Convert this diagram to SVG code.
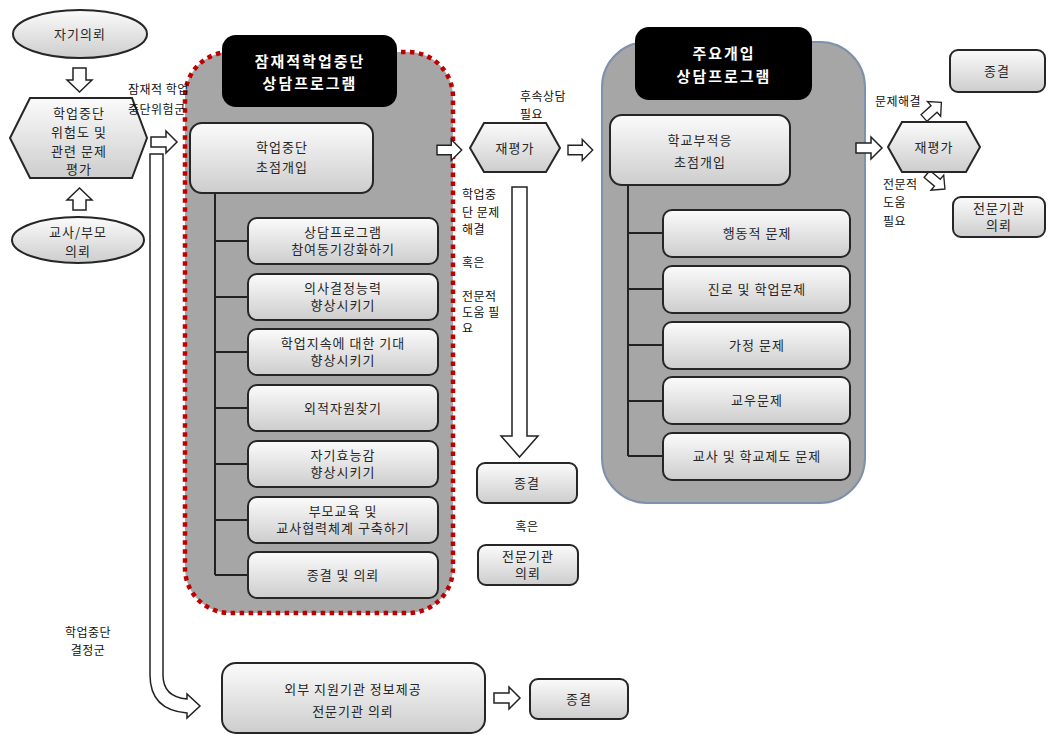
<svg xmlns="http://www.w3.org/2000/svg" width="1048" height="736" viewBox="0 0 1048 736">
<defs>
<linearGradient id="g" x1="0" y1="0" x2="0" y2="1">
<stop offset="0" stop-color="#fbfbfb"/>
<stop offset="1" stop-color="#cdcdcd"/>
</linearGradient>
<path id="arrR" d="M0,-5 H15 V-11 L26,0 L15,11 V5 H0 Z"/>
</defs>
<style>
.box{fill:url(#g);stroke:#262626;stroke-width:2}
.blk{fill:#000}
.t{font-family:"Noto Sans CJK KR","Noto Sans",sans-serif;font-size:13px;fill:#262626;text-anchor:middle;letter-spacing:1px}
.w{font-family:"Noto Sans CJK KR","Noto Sans",sans-serif;font-size:15px;font-weight:bold;fill:#fff;text-anchor:middle;letter-spacing:2px}
.l{font-family:"Noto Sans CJK KR","Noto Sans",sans-serif;font-size:12px;fill:#111;letter-spacing:0.5px}
.arr{fill:#fff;stroke:#222;stroke-width:1.5;stroke-linejoin:miter}
.ln{stroke:#222;stroke-width:2;fill:none}
</style>
<rect width="1048" height="736" fill="#fff"/>

<g id="container-potential">
<rect x="185" y="52" width="268" height="561" rx="45" fill="#a6a6a6" stroke="#c00000" stroke-width="4.5" stroke-dasharray="4.5 4.5"/>
</g>
<g id="container-main">
<rect x="602" y="42" width="263" height="461" rx="45" fill="#a6a6a6" stroke="#7f90aa" stroke-width="2"/>
</g>

<g id="connectors">
<path class="arr" d="M73,68 H86 V80 H92 L79.5,92 L67,80 H73 Z"/>
<path class="arr" d="M73,210 H86 V200 H92 L79.5,188 L67,200 H73 Z"/>
<use href="#arrR" class="arr" transform="translate(151,142)"/>
<use href="#arrR" class="arr" transform="translate(437,150) scale(0.95)"/>
<use href="#arrR" class="arr" transform="translate(568,150) scale(0.95)"/>
<use href="#arrR" class="arr" transform="translate(856,148)"/>
<use href="#arrR" class="arr" transform="translate(494,698)"/>
<use href="#arrR" class="arr" transform="translate(924,118) rotate(-42) scale(0.9)"/>
<use href="#arrR" class="arr" transform="translate(927,174) rotate(40) scale(0.9)"/>
<path class="arr" d="M512,187 H527 V436 H538 L519.5,457 L501,436 H512 Z"/>
<path class="arr" d="M150,154 V675 Q150,710 187,713 V718 L200,706 L187,694 V699 Q163,697 163,675 V154 Z"/>
<path class="ln" d="M215,193 V575 M215,241 H248 M215,297 H248 M215,352 H248 M215,408 H248 M215,464 H248 M215,520 H248 M215,575 H248"/>
<path class="ln" d="M628,185 V456 M628,233 H663 M628,289 H663 M628,345 H663 M628,401 H663 M628,456 H663"/>
</g>

<g id="n-self">
<ellipse class="box" cx="80" cy="34" rx="67" ry="24"/>
<text class="t" x="80" y="39">자기의뢰</text>
</g>
<g id="n-eval">
<polygon class="box" points="10,138 30,98 132,98 147,138 132,178 30,178"/>
<text class="t" x="79" y="118">학업중단</text>
<text class="t" x="79" y="137">위험도 및</text>
<text class="t" x="79" y="156">관련 문제</text>
<text class="t" x="79" y="174">평가</text>
</g>
<g id="n-parent">
<ellipse class="box" cx="78" cy="240" rx="66" ry="23"/>
<text class="t" x="78" y="237">교사/부모</text>
<text class="t" x="78" y="256">의뢰</text>
</g>

<g id="n-title1">
<rect class="blk" x="222" y="35" width="175" height="72" rx="14"/>
<text class="w" x="310" y="67">잠재적학업중단</text>
<text class="w" x="310" y="89">상담프로그램</text>
</g>
<g id="n-focus1">
<rect class="box" x="190" y="123" width="183" height="70" rx="12"/>
<text class="t" x="282" y="152">학업중단</text>
<text class="t" x="282" y="172">초점개입</text>
</g>
<g id="n-i1"><rect class="box" x="248" y="218" width="190" height="46" rx="9"/><text class="t" x="343" y="237">상담프로그램</text><text class="t" x="343" y="254">참여동기강화하기</text></g>
<g id="n-i2"><rect class="box" x="248" y="274" width="190" height="46" rx="9"/><text class="t" x="343" y="293">의사결정능력</text><text class="t" x="343" y="310">향상시키기</text></g>
<g id="n-i3"><rect class="box" x="248" y="329" width="190" height="46" rx="9"/><text class="t" x="343" y="348">학업지속에 대한 기대</text><text class="t" x="343" y="365">향상시키기</text></g>
<g id="n-i4"><rect class="box" x="248" y="385" width="190" height="46" rx="9"/><text class="t" x="343" y="413">외적자원찾기</text></g>
<g id="n-i5"><rect class="box" x="248" y="441" width="190" height="46" rx="9"/><text class="t" x="343" y="460">자기효능감</text><text class="t" x="343" y="477">향상시키기</text></g>
<g id="n-i6"><rect class="box" x="248" y="497" width="190" height="46" rx="9"/><text class="t" x="343" y="516">부모교육 및</text><text class="t" x="343" y="533">교사협력체계 구축하기</text></g>
<g id="n-i7"><rect class="box" x="248" y="552" width="190" height="46" rx="9"/><text class="t" x="343" y="580">종결 및 의뢰</text></g>

<g id="n-re1">
<polygon class="box" points="470,148 484,123 546,123 560,148 546,172 484,172"/>
<text class="t" x="515" y="153">재평가</text>
</g>
<g id="n-end1"><rect class="box" x="477" y="463" width="100" height="40" rx="8"/><text class="t" x="527" y="488">종결</text></g>
<g id="n-ref1"><rect class="box" x="478" y="545" width="100" height="40" rx="8"/><text class="t" x="528" y="561">전문기관</text><text class="t" x="528" y="578">의뢰</text></g>

<g id="n-title2">
<rect class="blk" x="635" y="27" width="177" height="73" rx="14"/>
<text class="w" x="724" y="59">주요개입</text>
<text class="w" x="724" y="82">상담프로그램</text>
</g>
<g id="n-focus2">
<rect class="box" x="610" y="115" width="180" height="70" rx="12"/>
<text class="t" x="700" y="145">학교부적응</text>
<text class="t" x="700" y="167">초점개입</text>
</g>
<g id="n-j1"><rect class="box" x="663" y="210" width="187" height="47" rx="9"/><text class="t" x="757" y="238">행동적 문제</text></g>
<g id="n-j2"><rect class="box" x="663" y="266" width="187" height="47" rx="9"/><text class="t" x="757" y="294">진로 및 학업문제</text></g>
<g id="n-j3"><rect class="box" x="663" y="322" width="187" height="47" rx="9"/><text class="t" x="757" y="350">가정 문제</text></g>
<g id="n-j4"><rect class="box" x="663" y="377" width="187" height="47" rx="9"/><text class="t" x="757" y="405">교우문제</text></g>
<g id="n-j5"><rect class="box" x="663" y="433" width="187" height="47" rx="9"/><text class="t" x="757" y="461">교사 및 학교제도 문제</text></g>

<g id="n-re2">
<polygon class="box" points="888,147 902,122 966,122 980,147 966,172 902,172"/>
<text class="t" x="934" y="152">재평가</text>
</g>
<g id="n-end2"><rect class="box" x="950" y="50" width="95" height="42" rx="8"/><text class="t" x="997" y="76">종결</text></g>
<g id="n-ref2"><rect class="box" x="953" y="197" width="92" height="40" rx="8"/><text class="t" x="999" y="213">전문기관</text><text class="t" x="999" y="230">의뢰</text></g>

<g id="n-ext">
<rect class="box" x="222" y="663" width="263" height="70" rx="14"/>
<text class="t" x="353" y="694">외부 지원기관 정보제공</text>
<text class="t" x="353" y="716">전문기관 의뢰</text>
</g>
<g id="n-end3"><rect class="box" x="530" y="679" width="98" height="40" rx="8"/><text class="t" x="579" y="704">종결</text></g>

<g id="labels">
<text class="l" x="128" y="94">잠재적 학업</text>
<text class="l" x="128" y="114">중단위험군</text>
<text class="l" x="520" y="101">후속상담</text>
<text class="l" x="520" y="119">필요</text>
<text class="l" x="462" y="199">학업중</text>
<text class="l" x="462" y="217">단 문제</text>
<text class="l" x="462" y="234">해결</text>
<text class="l" x="462" y="267">혹은</text>
<text class="l" x="462" y="301">전문적</text>
<text class="l" x="462" y="317">도움 필</text>
<text class="l" x="462" y="333">요</text>
<text class="l" x="527" y="531" text-anchor="middle">혹은</text>
<text class="l" x="875" y="106">문제해결</text>
<text class="l" x="883" y="189">전문적</text>
<text class="l" x="883" y="207">도움</text>
<text class="l" x="883" y="226">필요</text>
<text class="l" x="88" y="637" text-anchor="middle">학업중단</text>
<text class="l" x="88" y="655" text-anchor="middle">결정군</text>
</g>
</svg>
